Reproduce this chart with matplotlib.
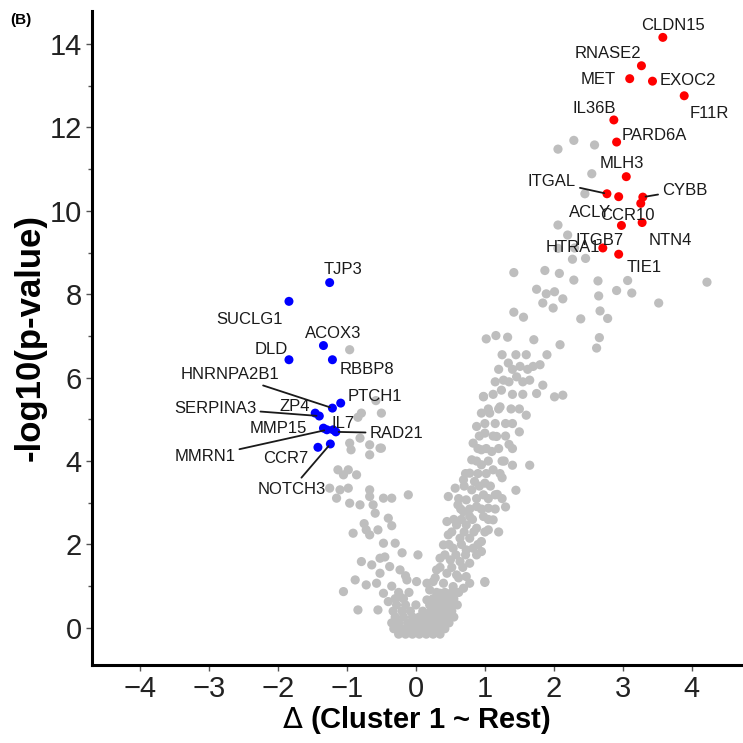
import matplotlib
matplotlib.use("Agg")
import matplotlib.pyplot as plt
from matplotlib.ticker import MultipleLocator

plt.rcParams['font.family'] = ['Liberation Sans', 'DejaVu Sans']

# labelled proteins, cluster 1 up
up_genes = ['CLDN15', 'RNASE2', 'MET', 'EXOC2', 'F11R', 'IL36B', 'PARD6A', 'MLH3',
            'ITGAL', 'ACLY', 'CYBB', 'CCR10', 'ITGB7', 'NTN4', 'HTRA1', 'TIE1']
up_delta = [3.58, 3.27, 3.10, 3.43, 3.89, 2.87, 2.91, 3.05,
            2.77, 2.94, 3.29, 3.26, 2.98, 3.28, 2.71, 2.94]
up_logp = [14.16, 13.48, 13.17, 13.11, 12.76, 12.18, 11.65, 10.82,
           10.41, 10.34, 10.33, 10.18, 9.65, 9.72, 9.11, 8.96]

# labelled proteins, cluster 1 down
down_genes = ['TJP3', 'SUCLG1', 'ACOX3', 'DLD', 'RBBP8', 'PTCH1', 'HNRNPA2B1', 'ZP4',
              'SERPINA3', 'MMP15', 'MMRN1', 'IL7', 'RAD21', 'CCR7', 'NOTCH3']
down_delta = [-1.25, -1.84, -1.34, -1.84, -1.21, -1.09, -1.21, -1.46,
              -1.40, -1.34, -1.29, -1.20, -1.16, -1.42, -1.24]
down_logp = [8.28, 7.83, 6.77, 6.43, 6.43, 5.39, 5.27, 5.15,
             5.08, 4.79, 4.75, 4.75, 4.70, 4.33, 4.41]

# everything else (grey)
gray_delta = [
    # bottom blob
    -0.25, -0.15, -0.05, 0.05, 0.15, 0.25, 0.35,
    -0.32, -0.2, -0.1, 0.0, 0.1, 0.2, 0.3, 0.42,
    -0.35, -0.25, -0.12, -0.02, 0.08, 0.18, 0.28, 0.38, 0.48,
    -0.3, -0.18, -0.05, 0.05, 0.15, 0.25, 0.35, 0.45, 0.55,
    -0.33, -0.2, -0.08, 0.1, 0.22, 0.32, 0.42, 0.52,
    -0.28, -0.15, 0.0, 0.2, 0.3, 0.4, 0.5, 0.6,
    -0.3, -0.18, 0.25, 0.35, 0.45, 0.55,
    -0.25, -0.1, 0.3, 0.42, 0.52, 0.62,
    # left arm
    -0.79, -0.50, -0.81, -0.96, -0.94, -0.52, -0.67, -1.13, -0.98, -1.05,
    -0.86, -1.25, -1.10, -0.67, -0.98, -1.15, -0.96, -0.81, -0.67, -0.47,
    -0.35, -0.11, -0.62, -0.59, -0.40, -0.72, -0.55, -0.91, -0.67, -0.47,
    -0.30, 0.03, -0.79, -0.64, -0.52, -0.38, -0.23, -0.52, -0.88, -0.72,
    -0.57, -0.13, 0.01, -1.05, -0.84, -0.55, -0.40, -0.23, -0.47, 0.16,
    -0.96, -0.67, -0.50, -0.84, -0.58,
    -0.35, -0.15, -0.45, -0.20, -0.75, -0.35,
    # right arm, lower
    0.98, 0.95, 1.07, 0.88, 1.00, 1.17, 0.83, 0.95, 1.10, 0.81,
    0.95, 1.12, 0.78, 0.69, 0.85, 1.00, 0.57, 0.81, 0.98, 1.15,
    0.73, 0.61, 0.88, 1.05, 0.47, 0.69, 0.78, 0.98, 1.12, 0.45,
    0.59, 0.73, 0.88, 1.05, 0.47, 0.64, 0.78, 0.95, 0.40, 0.54,
    0.73, 0.83, 0.95, 0.35, 0.50, 0.64, 0.78, 0.30, 0.45, 0.59,
    0.73, 1.00, 0.25, 0.40, 0.54, 0.69, 0.20, 0.35, 0.50, 0.16,
    0.30, 0.45, 1.00, 0.78,
    1.30, 1.35, 1.25, 1.40, 1.50, 1.60, 1.30, 1.20, 1.45, 1.65,
    1.22, 1.18, 1.28,
    0.28, 0.62, 0.35, 0.52, 0.68, 0.42, 0.58, 0.72, 0.88, 0.48,
    0.66, 0.90, 0.52, 0.70, 0.84, 1.00, 0.55, 0.66, 0.82, 1.05,
    0.65, 0.78, 0.95, 1.15, 0.62, 0.88, 1.05, 1.25, 0.70, 0.92,
    1.08, 0.72, 0.90, 1.02, 1.22, 0.88, 1.05, 1.25, 0.90, 1.02,
    1.20, 1.40, 0.92, 1.12, 1.30, 1.00, 1.15, 1.40, 1.05, 1.20,
    1.38, 1.50, 1.12, 1.40, 1.55, 1.15, 1.35, 1.55, 1.20, 1.40,
    1.62, 1.25, 1.45, 1.60, 1.90,
    # right arm, upper
    2.29, 2.59, 2.06, 2.55, 2.45, 2.06, 2.20, 2.06, 2.27, 2.46,
    1.42, 1.87, 2.08, 2.29, 2.64, 3.07, 2.91, 3.13, 3.52, 4.22,
    1.75, 1.89, 2.01, 2.13, 1.84, 1.99, 2.65, 1.42, 1.56, 2.67,
    2.78, 2.39, 1.02, 1.16, 1.33, 1.71, 2.09, 2.66, 2.62, 1.34,
    1.51, 1.70, 1.80, 1.27, 1.46, 1.65, 1.84, 0.98, 1.24, 1.75,
    2.01, 2.13, 2.30,
]
gray_logp = [
    -0.15, -0.15, -0.15, -0.15, -0.15, -0.15, -0.15,
    -0.02, -0.02, -0.02, -0.02, -0.02, -0.02, -0.02, -0.02,
    0.12, 0.12, 0.12, 0.12, 0.12, 0.12, 0.12, 0.12, 0.12,
    0.26, 0.26, 0.26, 0.26, 0.26, 0.26, 0.26, 0.26, 0.26,
    0.40, 0.40, 0.40, 0.40, 0.40, 0.40, 0.40, 0.40,
    0.55, 0.55, 0.55, 0.55, 0.55, 0.55, 0.55, 0.55,
    0.70, 0.70, 0.70, 0.70, 0.70, 0.70,
    0.85, 0.85, 0.85, 0.85, 0.85, 0.85,
    5.15, 5.15, 4.55, 4.43, 4.27, 4.31, 4.15, 3.79, 3.79, 3.67,
    3.67, 3.35, 3.31, 3.31, 3.35, 3.11, 2.99, 2.95, 3.15, 3.11,
    3.11, 3.19, 2.95, 2.75, 2.63, 2.35, 2.35, 2.27, 2.23, 2.03,
    2.03, 1.75, 1.59, 1.51, 1.67, 1.47, 1.39, 1.31, 1.15, 1.03,
    1.07, 1.15, 1.11, 0.87, 0.43, 0.43, 0.63, 0.75, 0.83, 1.07,
    6.67, 4.39, 4.31, 5.05, 5.45,
    1.00, 1.25, 1.70, 1.80, 2.50, 2.45,
    5.55, 5.15, 5.15, 4.83, 4.67, 4.59, 4.43, 4.27, 4.23, 4.03,
    3.91, 3.79, 3.71, 3.55, 3.51, 3.47, 3.35, 3.31, 3.19, 3.19,
    3.07, 2.95, 2.91, 2.87, 3.15, 2.79, 2.67, 2.67, 2.59, 2.55,
    2.47, 2.47, 2.39, 2.35, 2.23, 2.15, 2.15, 2.07, 1.99, 1.91,
    1.87, 1.91, 1.83, 1.67, 1.63, 1.59, 1.55, 1.39, 1.31, 1.27,
    1.23, 1.11, 1.11, 1.07, 0.99, 0.95, 0.91, 0.83, 0.75, 0.67,
    0.59, 0.51, 1.09, 1.07,
    4.90, 4.40, 3.60, 3.90, 4.70, 5.10, 2.90, 2.30, 3.30, 3.90,
    5.30, 3.20, 4.00,
    1.20, 1.20, 1.45, 1.45, 1.45, 1.75, 1.75, 1.75, 1.75, 2.00,
    2.00, 2.00, 2.30, 2.30, 2.30, 2.30, 2.60, 2.60, 2.60, 2.60,
    2.85, 2.85, 2.85, 2.85, 3.10, 3.10, 3.10, 3.10, 3.40, 3.40,
    3.40, 3.70, 3.70, 3.70, 3.70, 4.00, 4.00, 4.00, 4.30, 4.30,
    4.30, 4.30, 4.60, 4.60, 4.60, 4.90, 4.90, 4.90, 5.25, 5.25,
    5.25, 5.25, 5.60, 5.60, 5.60, 5.90, 5.90, 5.90, 6.20, 6.20,
    6.20, 6.55, 6.55, 6.55, 6.55,
    11.69, 11.58, 11.48, 10.89, 10.41, 9.66, 9.42, 9.10, 8.84, 8.86,
    8.52, 8.57, 8.50, 8.34, 8.32, 8.33, 8.09, 8.03, 7.79, 8.29,
    8.12, 8.01, 8.06, 7.89, 7.79, 7.67, 7.96, 7.57, 7.45, 7.60,
    7.42, 7.41, 6.93, 7.01, 6.97, 6.91, 6.79, 6.96, 6.71, 6.35,
    6.27, 6.27, 6.31, 5.94, 6.02, 5.94, 5.82, 5.54, 5.70, 5.62,
    5.54, 5.58, 9.11,
]

# where each gene label sits (text centre), and which ones get a leader line
label_pos = {
    'CLDN15': (3.73, 14.44), 'RNASE2': (2.79, 13.78), 'MET': (2.64, 13.14),
    'EXOC2': (3.95, 13.12), 'F11R': (4.26, 12.34), 'IL36B': (2.59, 12.46),
    'PARD6A': (3.46, 11.80), 'MLH3': (2.98, 11.14), 'ITGAL': (1.97, 10.70),
    'CYBB': (3.90, 10.50), 'ACLY': (2.53, 9.96), 'CCR10': (3.07, 9.88),
    'ITGB7': (2.67, 9.29), 'NTN4': (3.69, 9.29), 'HTRA1': (2.28, 9.11),
    'TIE1': (3.31, 8.63),
    'TJP3': (-1.05, 8.59), 'SUCLG1': (-2.41, 7.39), 'ACOX3': (-1.20, 7.07),
    'DLD': (-2.10, 6.68), 'RBBP8': (-0.71, 6.19), 'HNRNPA2B1': (-2.69, 6.07),
    'PTCH1': (-0.59, 5.56), 'ZP4': (-1.76, 5.30), 'SERPINA3': (-2.91, 5.27),
    'IL7': (-1.06, 4.91), 'MMP15': (-2.0, 4.79), 'RAD21': (-0.28, 4.67),
    'MMRN1': (-3.06, 4.10), 'CCR7': (-1.88, 4.07), 'NOTCH3': (-1.80, 3.33),
}
with_line = ['ITGAL', 'CYBB', 'HNRNPA2B1', 'SERPINA3', 'MMRN1', 'RAD21', 'NOTCH3']

fig = plt.figure(figsize=(7.43, 7.43), dpi=100)
ax = fig.add_axes([0.1234, 0.105, 0.8736, 0.8806])

ax.scatter(gray_delta, gray_logp, s=44, color='#BEBEBE', edgecolors='none', zorder=2)
ax.scatter(up_delta, up_logp, s=42, color='#FF0000', edgecolors='none', zorder=3)
ax.scatter(down_delta, down_logp, s=42, color='#0000FF', edgecolors='none', zorder=3)

genes = up_genes + down_genes
xs = up_delta + down_delta
ys = up_logp + down_logp
for g, x, y in zip(genes, xs, ys):
    tx, ty = label_pos[g]
    if g in with_line:
        ax.annotate(g, xy=(x, y), xytext=(tx, ty), fontsize=12, color='#1a1a1a',
                    ha='center', va='center', zorder=4,
                    arrowprops=dict(arrowstyle='-', color='#1a1a1a', lw=1.3,
                                    shrinkA=1, shrinkB=2))
    else:
        ax.text(tx, ty, g, fontsize=12, color='#1a1a1a', ha='center', va='center', zorder=4)

ax.set_xlim(-4.70, 4.71)
ax.set_ylim(-0.89, 14.80)
ax.set_xticks(range(-4, 5))
ax.set_xticklabels(['\u22124', '\u22123', '\u22122', '\u22121', '0', '1', '2', '3', '4'])
ax.yaxis.set_major_locator(MultipleLocator(2))
ax.yaxis.set_minor_locator(MultipleLocator(1))

for side in ['top', 'right']:
    ax.spines[side].set_visible(False)
for side in ['left', 'bottom']:
    ax.spines[side].set_linewidth(2.2)
    ax.spines[side].set_color('black')

ax.tick_params(which='major', length=4, width=1, color='#555555', labelsize=21,
               labelcolor='#222222', pad=3)
ax.tick_params(which='minor', length=3, width=1, color='#555555')

ax.set_xlabel('$\\Delta$ (Cluster 1 ~ Rest)', fontsize=21, fontweight='bold', labelpad=1)
ax.set_ylabel('-log10(p-value)', fontsize=25, fontweight='bold', labelpad=2)

fig.text(0.014, 0.968, '(B)', fontsize=11, fontweight='bold')

fig.savefig('out.png', dpi=100)
